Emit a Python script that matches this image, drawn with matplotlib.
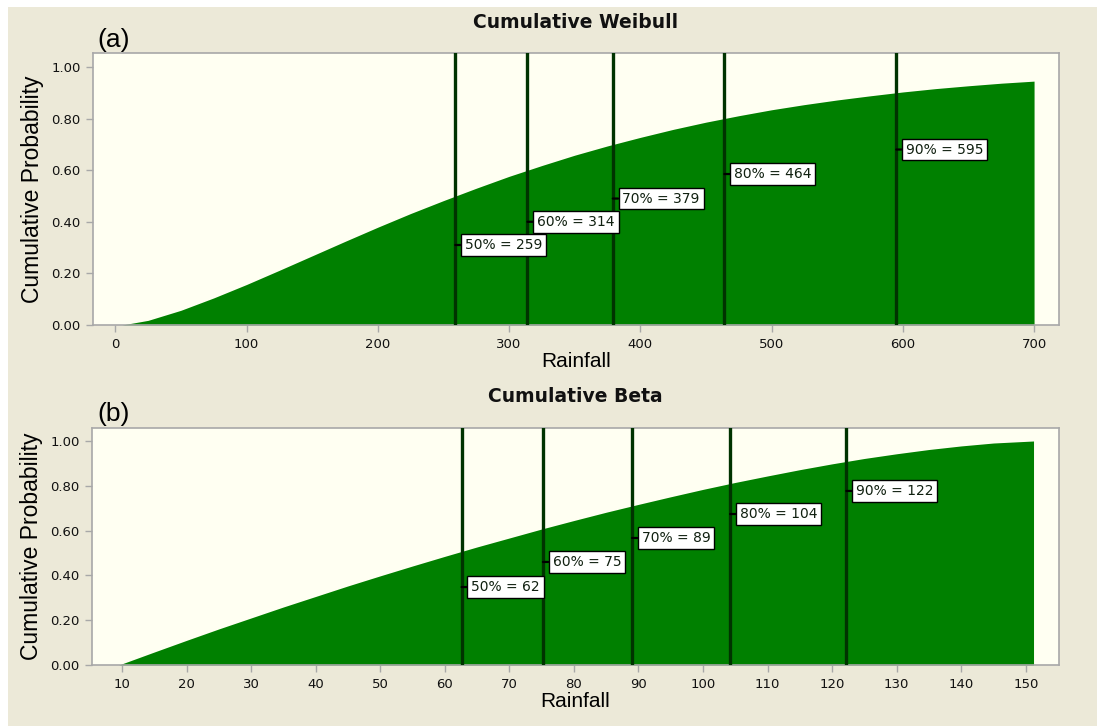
import matplotlib
matplotlib.use("Agg")
import matplotlib.pyplot as plt
from matplotlib.patches import Rectangle

# ---- data ----
weibull_x = [5, 25, 50, 75, 100, 125, 150, 175, 200, 225, 250, 275, 300, 325, 350,
             375, 400, 425, 450, 475, 500, 525, 550, 575, 600, 625, 650, 675, 700]
weibull_p = [0.0, 0.018, 0.057, 0.105, 0.157, 0.212, 0.268, 0.324, 0.379, 0.432, 0.482,
             0.530, 0.576, 0.618, 0.658, 0.694, 0.727, 0.758, 0.786, 0.811, 0.834,
             0.854, 0.872, 0.888, 0.903, 0.916, 0.927, 0.937, 0.945]
weibull_q_pct = [50, 60, 70, 80, 90]
weibull_q_val = [259, 314, 379, 464, 595]
weibull_label_y = [0.31, 0.40, 0.49, 0.585, 0.68]

beta_x = [9.5, 15, 20, 25, 30, 35, 40, 45, 50, 55, 60, 65, 70, 75, 80, 85, 90, 95, 100,
          105, 110, 115, 120, 125, 130, 135, 140, 145, 151.2]
beta_p = [0.0, 0.058, 0.110, 0.161, 0.210, 0.259, 0.306, 0.353, 0.398, 0.442, 0.485,
          0.527, 0.567, 0.607, 0.645, 0.682, 0.717, 0.751, 0.784, 0.815, 0.844,
          0.872, 0.898, 0.922, 0.943, 0.962, 0.978, 0.991, 1.0]
beta_q_pct = [50, 60, 70, 80, 90]
beta_q_val = [62.6, 75.2, 89, 104.2, 122.2]
beta_q_lab = [62, 75, 89, 104, 122]
beta_label_y = [0.348, 0.46, 0.567, 0.674, 0.777]

weibull_xticks = [0, 100, 200, 300, 400, 500, 600, 700]
beta_xticks = list(range(10, 151, 10))
yticks = [0.0, 0.2, 0.4, 0.6, 0.8, 1.0]

# ---- style ----
FIG_BG = "#ECE9D8"
AX_BG = "#FFFFF2"
FILL = "#008000"
QLINE = "#003300"
SPINE = "#A8A8A8"

W, H = 1097, 726
fig = plt.figure(figsize=(W / 100, H / 100), dpi=100)
fig.patch.set_facecolor("white")
fig.patches.append(Rectangle((8 / W, 0), 1, 1 - 7 / H, transform=fig.transFigure,
                             facecolor=FIG_BG, edgecolor="none", zorder=-10))


def box(l, r, t, b):
    return [l / W, 1 - b / H, (r - l) / W, (b - t) / H]


ax1 = fig.add_axes(box(93, 1059, 53, 325))
ax2 = fig.add_axes(box(92.3, 1058.7, 428, 665))


def style(ax, xlim, ylim, xticks):
    ax.set_facecolor(AX_BG)
    ax.set_xlim(*xlim)
    ax.set_ylim(*ylim)
    ax.set_xticks(xticks)
    ax.set_xticklabels([str(t) for t in xticks], fontsize=9.5, family="DejaVu Sans")
    ax.set_yticks(yticks)
    ax.set_yticklabels([f"{t:.2f}" for t in yticks], fontsize=9.5, family="DejaVu Sans")
    for s in ax.spines.values():
        s.set_color(SPINE)
        s.set_linewidth(1.2)
    ax.tick_params(direction="out", length=5, width=1, color=SPINE, pad=4,
                   labelcolor="#111111")
    ax.set_ylabel("Cumulative Probability", fontsize=16.5, family="Liberation Sans",
                  labelpad=5)
    ax.set_xlabel("Rainfall", fontsize=15, family="Liberation Sans", labelpad=1)


def draw(ax, xs, ps, qv, qpct, qlab, ly):
    ax.fill_between(xs, 0, ps, color=FILL, linewidth=0, zorder=2)
    for v, pct, lab, y in zip(qv, qpct, qlab, ly):
        ax.axvline(v, color=QLINE, lw=2.4, zorder=3)
        ax.annotate(f"{pct}% = {lab}", xy=(v, y), xytext=(7, 0),
                    textcoords="offset points", ha="left", va="center",
                    fontsize=10, family="DejaVu Sans", color="#102010",
                    bbox=dict(boxstyle="square,pad=0.28", fc="white", ec="black", lw=1),
                    arrowprops=dict(arrowstyle="-", color="black", lw=1.6,
                                    shrinkA=0, shrinkB=0),
                    zorder=5)


style(ax1, (-17, 719), (0, 1.054), weibull_xticks)
draw(ax1, weibull_x, weibull_p, weibull_q_val, weibull_q_pct, weibull_q_val, weibull_label_y)
style(ax2, (5.4, 155.1), (0, 1.058), beta_xticks)
draw(ax2, beta_x, beta_p, beta_q_val, beta_q_pct, beta_q_lab, beta_label_y)

fig.text(575.7 / W, 1 - 22 / H, "Cumulative Weibull", ha="center", va="center",
         fontsize=13.5, fontweight="bold", family="DejaVu Sans", color="#111111")
fig.text(575.8 / W, 1 - 397 / H, "Cumulative Beta", ha="center", va="center",
         fontsize=13.5, fontweight="bold", family="DejaVu Sans", color="#111111")
fig.text(97 / W, 1 - 40 / H, "(a)", ha="left", va="center", fontsize=19,
         family="Liberation Sans")
fig.text(97 / W, 1 - 414 / H, "(b)", ha="left", va="center", fontsize=19,
         family="Liberation Sans")

fig.savefig("out.png", dpi=100, facecolor=fig.get_facecolor())
